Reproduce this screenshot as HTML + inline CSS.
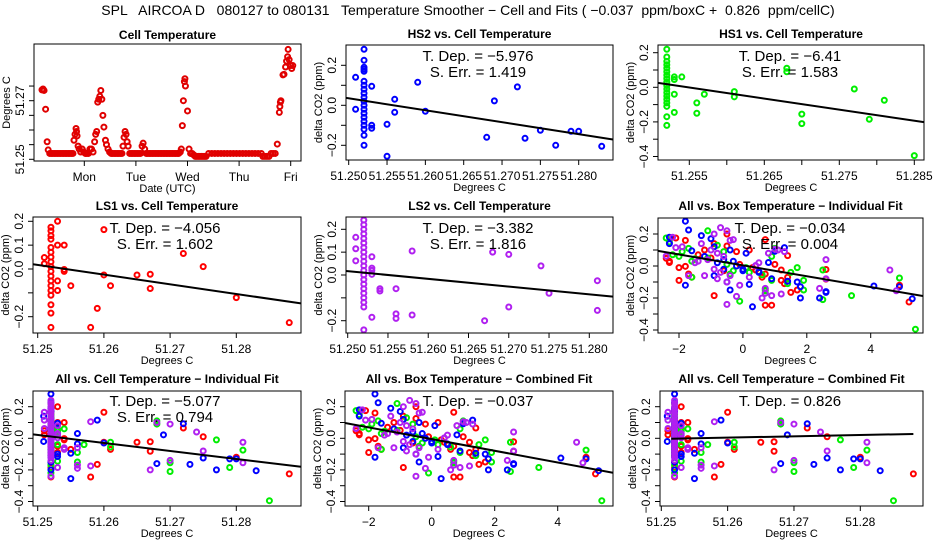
<!DOCTYPE html>
<html><head><meta charset="utf-8"><title>Temperature Smoother</title>
<style>
html,body{margin:0;padding:0;background:#fff;}
svg{display:block;font-family:"Liberation Sans",Arial,sans-serif;}
</style></head>
<body>
<svg id="chart" width="936" height="540" viewBox="0 0 936 540" xmlns="http://www.w3.org/2000/svg">
<rect x="0" y="0" width="936" height="540" fill="#fff"/>
<text x="468" y="15" text-anchor="middle" font-size="14" xml:space="preserve">SPL   AIRCOA D   080127 to 080131   Temperature Smoother − Cell and Fits ( −0.037  ppm/boxC +  0.826  ppm/cellC)</text>
</svg>
<script>
// ---- Panel 1 time series data (day index: Mon=1) ----
const tsTimes = [0.18,0.20,0.22,0.25,0.28,0.30,0.33,
0.36,0.39,0.42,0.45,0.48,0.51,0.54,0.57,0.60,0.63,0.66,0.69,0.72,0.75,0.78,
0.80,0.82,0.84,0.85,0.86,0.88,0.90,0.93,0.96,0.99,1.02,1.05,1.08,1.11,1.14,1.17,
1.20,1.22,1.24,1.26,1.28,1.30,1.32,1.34,1.36,1.38,1.41,1.43,1.46,1.49,1.52,
1.55,1.58,1.61,1.64,1.67,1.70,1.73,
1.75,1.77,1.79,1.81,1.83,1.85,
1.88,1.91,1.94,1.97,2.00,2.03,2.06,2.09,
2.12,2.14,2.17,
2.20,2.23,2.26,2.29,2.32,2.35,2.38,2.41,2.44,2.47,2.50,2.53,2.56,2.59,2.62,2.65,2.68,2.71,2.74,2.77,2.80,2.83,
2.86,2.88,2.90,2.92,2.94,2.95,2.96,3.00,3.03,3.06,3.09,3.12,
3.15,3.18,3.21,3.24,3.27,3.30,3.33,3.36,
3.41,3.47,3.53,3.59,3.65,3.71,3.77,3.83,3.89,3.95,4.01,4.07,4.13,4.19,4.25,4.31,4.37,4.43,
4.46,4.50,4.54,4.58,4.62,4.66,4.70,
4.74,4.78,4.79,4.80,4.81,4.85,4.87,4.90,4.92,4.94,4.95,4.97,5.00,5.02,5.04];
const tsTemps = [51.2737,51.274,51.2735,51.2671,51.256,51.2532,51.252,
51.252,51.252,51.252,51.252,51.252,51.252,51.252,51.252,51.252,51.252,51.252,51.252,51.252,51.252,51.252,
51.2565,51.2585,51.2605,51.2595,51.258,51.2545,51.2535,51.2525,51.2535,51.2525,51.252,51.252,51.252,51.2535,51.2535,51.2525,
51.256,51.2585,51.2595,51.2695,51.2705,51.2715,51.2735,51.2705,51.265,51.261,51.2565,51.255,51.2535,51.2525,51.252,
51.252,51.252,51.252,51.252,51.252,51.252,51.252,
51.2545,51.2575,51.2595,51.2585,51.256,51.2545,
51.252,51.252,51.252,51.252,51.252,51.252,51.252,51.252,
51.2545,51.2555,51.2535,
51.252,51.252,51.252,51.252,51.252,51.252,51.252,51.252,51.252,51.252,51.252,51.252,51.252,51.252,51.252,51.252,51.252,51.252,51.252,51.252,51.252,51.252,
51.2525,51.2535,51.2615,51.27,51.2765,51.2775,51.275,51.2665,51.2535,51.252,51.252,51.2515,
51.251,51.251,51.251,51.251,51.251,51.251,51.251,51.251,
51.252,51.252,51.252,51.252,51.252,51.252,51.252,51.252,51.252,51.252,51.252,51.252,51.252,51.252,51.252,51.252,51.252,51.252,
51.251,51.251,51.251,51.251,51.252,51.252,51.252,
51.2552,51.266,51.268,51.2695,51.27,51.2788,51.279,51.2815,51.2835,51.285,51.2875,51.284,51.282,51.281,51.282];
const dayLabels = ["Mon","Tue","Wed","Thu","Fri"];
const dayTicks = [1,2,3,4,5];

// ---- HS2 (blue) ----
const hs2Cell = [51.2509,51.2509,
51.252,51.252,51.252,51.252,51.252,51.252,51.252,51.252,51.252,51.252,51.252,51.252,51.252,51.252,51.252,51.252,51.252,51.252,51.252,51.252,
51.253,51.253,51.253,51.255,51.255,51.256,51.256,51.259,51.260,51.268,51.269,51.272,51.273,51.275,51.277,51.279,51.280,51.283];
const hs2Delta = [0.14,-0.02,
0.28,0.225,0.19,0.18,0.17,0.12,0.1,0.08,0.06,0.04,0.02,0,-0.02,-0.04,-0.06,-0.08,-0.1,-0.12,-0.15,-0.2,
0.095,-0.1,-0.115,-0.095,-0.255,0.03,-0.035,0.115,-0.03,-0.16,0.022,0.092,-0.165,-0.125,-0.2,-0.13,-0.13,-0.205];
const hs2Box = [-2.3,-0.6,
-1.8,-1.7,-1.3,-2.3,-1.0,-0.9,-0.4,0.1,-1.2,-0.6,-0.8,-0.2,0.0,0.5,-0.9,0.9,-0.5,-1.8,-0.4,1.8,
-1.6,1.7,0.2,1.4,0.3,-0.3,0.5,1.3,0.0,2.6,0.8,1.0,2.6,4.1,2.4,4.9,1.8,5.3];

// ---- HS1 (green) ----
const hs1Cell = [51.252,51.252,51.252,51.252,51.252,51.252,51.252,51.252,51.252,51.252,51.252,51.252,51.252,51.252,51.252,51.252,51.252,51.252,
51.253,51.253,51.253,51.253,51.254,51.256,51.256,51.257,51.261,51.261,51.268,51.268,51.270,51.270,51.277,51.279,51.281,51.285];
const hs1Delta = [0.22,0.175,0.15,0.13,0.11,0.09,0.07,0.05,0.03,0.01,-0.01,-0.03,-0.05,-0.07,-0.09,-0.11,-0.17,-0.22,
0.06,0.045,-0.04,-0.145,0.06,-0.09,-0.15,-0.04,-0.025,-0.055,0.11,0.09,-0.155,-0.21,-0.01,-0.185,-0.075,-0.395];
const hs1Box = [-1.1,-2.4,-2.3,-0.8,-1.7,-0.6,-2.2,-1.1,-1.6,-0.5,0.1,-0.3,-0.4,-1.6,0.9,1.4,0.7,-0.1,
-2.0,-1.5,1.5,0.7,0.9,1.9,1.9,0.2,2.5,0.6,1.0,-1.9,0.7,2.5,1.7,3.4,4.9,5.4];

// ---- LS1 (red) ----
const ls1Cell = [51.251,51.251,
51.252,51.252,51.252,51.252,51.252,51.252,51.252,51.252,51.252,51.252,51.252,51.252,51.252,51.252,51.252,51.252,51.252,51.252,
51.253,51.253,51.253,51.253,51.254,51.254,51.254,51.255,51.258,51.259,51.260,51.260,51.261,51.265,51.267,51.267,51.272,51.275,51.280,51.288];
const ls1Delta = [0.048,0.022,
0.175,0.16,0.14,0.125,0.09,0.07,0.05,0.03,0.01,-0.01,-0.03,-0.05,-0.07,-0.09,-0.11,-0.15,-0.185,-0.245,
0.2,0.1,-0.05,-0.09,0.1,-0.002,-0.01,-0.07,-0.245,-0.165,0.165,-0.025,-0.07,-0.025,-0.022,-0.082,0.065,0.01,-0.12,-0.225];
const ls1Box = [-2.4,-2.3,
-2.1,-1.8,-0.9,-0.5,-0.2,-1.4,-1.0,-2.3,-0.1,0.3,-0.6,-1.7,0.6,-2.0,1.3,1.7,-0.9,0.7,
-0.5,0.2,0.7,1.2,-1.2,-1.8,-2.0,-1.6,0.9,1.5,0.7,0.4,1.4,1.2,2.6,2.6,1.4,1.0,4.9,5.2];

// ---- LS2 (purple) ----
const ls2Cell = [51.251,51.251,51.251,
51.252,51.252,51.252,51.252,51.252,51.252,51.252,51.252,51.252,51.252,51.252,51.252,51.252,51.252,51.252,51.252,51.252,51.252,51.252,51.252,51.252,
51.253,51.253,51.253,51.253,51.253,51.254,51.254,51.256,51.256,51.256,51.258,51.258,51.267,51.268,51.270,51.270,51.274,51.275,51.281,51.281];
const ls2Delta = [0.165,0.115,0.062,
0.24,0.22,0.2,0.18,0.16,0.14,0.12,0.1,0.08,0.06,0.04,0.02,0,-0.02,-0.04,-0.06,-0.08,-0.1,-0.12,-0.14,-0.24,
0.08,0.03,0.02,0.003,-0.185,-0.06,-0.07,-0.06,-0.17,-0.19,0.105,-0.175,-0.2,0.1,0.09,-0.14,0.04,-0.08,-0.025,-0.155];
const ls2Box = [-0.3,-2.1,-2.4,
-0.7,-0.5,-0.9,-2.2,-0.4,-1.3,-1.9,-1.0,-0.8,-0.6,-1.1,-1.5,0.4,-0.9,-0.7,-1.2,-0.8,-0.5,-0.1,0.7,-0.5,
0.8,-1.4,0.5,0.4,0.9,-0.4,0.2,-1.7,0.7,-0.2,1.0,1.2,0.6,1.1,1.3,2.4,2.6,2.6,4.6,4.8];

// ---- fit results ----
const fitSlopes = [-5.976,-6.41,-4.056,-3.382,-0.034,-5.077,-0.037,0.826];
const fitIntercepts = [0.035,0.031,0.017,0.017,0.004,0.0215,-0.005,-0.004];
const depLabels = ["−5.976","−6.41","−4.056","−3.382","−0.034","−5.077","−0.037","0.826"];
const errLabels = ["1.419","1.583","1.602","1.816","0.004","0.794","",""];

const NS = "http://www.w3.org/2000/svg";
const svg = document.getElementById("chart");
function mk(tag, attrs, parent){
  const e = document.createElementNS(NS, tag);
  for (const k in attrs) e.setAttribute(k, attrs[k]);
  (parent||svg).appendChild(e);
  return e;
}
function lin(v0,p0,v1,p1){ const s=(p1-p0)/(v1-v0); const f=v=>p0+(v-v0)*s; f.inv=p=>v0+(p-p0)/s; return f; }

const COL = {red:"#ff0000", green:"#00ee00", blue:"#0000ff", purple:"#b020f0"};

function panel(cfg){
  const g = mk("g", {});
  
  
  const [L,T,R,B] = cfg.box;
  const sx = lin(...cfg.xc), sy = lin(...cfg.yc);
  const t = mk("text",{x:(L+R)/2, y:cfg.titleY, "text-anchor":"middle","font-size":"12","font-weight":"bold"}, g);
  t.textContent = cfg.title;
  
  
  const cid = cfg.name+"-clip";
  const cp = mk("clipPath",{id:cid}, g);
  mk("rect",{x:L,y:T,width:R-L,height:B-T}, cp);
  const plot = mk("g",{"clip-path":"url(#"+cid+")"}, g);
  
  
  const xa = mk("g",{}, g);
  
  
  cfg.xt.forEach((v,i)=>{
    const px = sx(v);
    mk("line",{x1:px,x2:px,y1:B,y2:B+5,stroke:"#000","stroke-width":1}, xa);
    const lab = cfg.xl[i];
    if (lab){
      const tx = mk("text",{x:px,y:B+20,"text-anchor":"middle","font-size":"12"}, xa);
      tx.textContent = lab;
      
      
    }
  });
  const xl = mk("text",{x:(L+R)/2,y:B+31,"text-anchor":"middle","font-size":"11"}, g);
  xl.textContent = cfg.xlabel;
  
  
  const ya = mk("g",{}, g);
  
  
  cfg.yt.forEach((v,i)=>{
    const py = sy(v);
    mk("line",{x1:L-5,x2:L,y1:py,y2:py,stroke:"#000","stroke-width":1}, ya);
    const lab = cfg.yl[i];
    if (lab){
      const tx = mk("text",{x:0,y:0,"text-anchor":"middle","font-size":"12",transform:"translate("+(L-10)+","+py+") rotate(-90)"}, ya);
      tx.textContent = lab;
      
      
    }
  });
  const yl = mk("text",{x:0,y:0,"text-anchor":"middle","font-size":"11",transform:"translate("+(L-24)+","+((T+B)/2)+") rotate(-90)"}, g);
  yl.textContent = cfg.ylabel;
  
  
  if (cfg.fit !== undefined){
    const k = cfg.fit;
    const a1 = mk("text",{x:cfg.txtX,y:cfg.txtY,"text-anchor":"middle","font-size":"15"}, g);
    a1.textContent = "T. Dep. =  " + depLabels[k];
    
    
    if (errLabels[k]){
      const a2 = mk("text",{x:cfg.txtX,y:cfg.txtY+16,"text-anchor":"middle","font-size":"15"}, g);
      a2.textContent = "S. Err. =  " + errLabels[k];
      
      
    }
  }
  cfg.series.forEach(s=>{
    s.x.forEach((xv,i)=>{
      const c = mk("circle",{cx:sx(xv),cy:sy(s.y[i]),r:2.5,fill:"none",stroke:s.color,"stroke-width":2}, plot);
      
      
    });
  });
  if (cfg.fit !== undefined){
    const k = cfg.fit;
    const xa0 = cfg.lineX ? cfg.lineX[0] : sx.inv(L), xa1 = cfg.lineX ? cfg.lineX[1] : sx.inv(R);
    const f = v => fitIntercepts[k] + fitSlopes[k]*(v - cfg.x0);
    const ln = mk("line",{x1:sx(xa0),y1:sy(f(xa0)),x2:sx(xa1),y2:sy(f(xa1)),stroke:"#000","stroke-width":2}, plot);
    
    
  }
  const bx = mk("rect",{x:L,y:T,width:R-L,height:B-T,fill:"none",stroke:"#000","stroke-width":1}, g);
  
  
}

const cellTicks5 = [51.250,51.255,51.260,51.265,51.270,51.275,51.280];
const cellLabs5 = ["51.250","51.255","51.260","51.265","51.270","51.275","51.280"];
const cellTicks10 = [51.25,51.26,51.27,51.28];
const cellLabs10 = ["51.25","51.26","51.27","51.28"];
const yT4 = [-0.4,-0.3,-0.2,-0.1,0,0.1,0.2];
const yL4 = ["−0.4","","−0.2","","0.0","","0.2"];
const allCell = [
 {x:ls1Cell,y:ls1Delta,color:COL.red,label:"ls1"},
 {x:hs1Cell,y:hs1Delta,color:COL.green,label:"hs1"},
 {x:hs2Cell,y:hs2Delta,color:COL.blue,label:"hs2"},
 {x:ls2Cell,y:ls2Delta,color:COL.purple,label:"ls2"}];
const allBox = [
 {x:ls1Box,y:ls1Delta,color:COL.red,label:"ls1"},
 {x:hs1Box,y:hs1Delta,color:COL.green,label:"hs1"},
 {x:hs2Box,y:hs2Delta,color:COL.blue,label:"hs2"},
 {x:ls2Box,y:ls2Delta,color:COL.purple,label:"ls2"}];

panel({name:"cell-temperature-panel",title:"Cell Temperature",titleY:39,box:[34,44,301,161],
  xc:[1,84.3,5,290.7], yc:[51.25,159.3,51.27,100.7],
  xt:dayTicks, xl:dayLabels, xlabel:"Date (UTC)",
  yt:[51.25,51.255,51.26,51.265,51.27,51.275], yl:["51.25","","","","51.27",""], ylabel:"Degrees C",
  series:[{x:tsTimes,y:tsTemps,color:"#e00000",label:"cell-temp"}]});

panel({name:"hs2-panel",title:"HS2 vs. Cell Temperature",titleY:38,box:[346,45,613,160],
  xc:[51.25,348.7,51.28,578.7], yc:[0,105.3,0.2,65.3],
  xt:cellTicks5, xl:cellLabs5, xlabel:"Degrees C",
  yt:[-0.2,-0.1,0,0.1,0.2], yl:["−0.2","","0.0","","0.2"], ylabel:"delta CO2 (ppm)",
  fit:0, x0:51.25, txtX:478, txtY:61,
  series:[{x:hs2Cell,y:hs2Delta,color:COL.blue,label:"hs2"}]});

panel({name:"hs1-panel",title:"HS1 vs. Cell Temperature",titleY:38,box:[658,45,924,160],
  xc:[51.255,689.3,51.285,914.3], yc:[0,87.3,0.2,52.7],
  xt:[51.255,51.26,51.265,51.27,51.275,51.28,51.285], xl:["51.255","","51.265","","51.275","","51.285"], xlabel:"Degrees C",
  yt:yT4, yl:yL4, ylabel:"delta CO2 (ppm)",
  fit:1, x0:51.25, txtX:790, txtY:61,
  series:[{x:hs1Cell,y:hs1Delta,color:COL.green,label:"hs1"}]});

panel({name:"ls1-panel",title:"LS1 vs. Cell Temperature",titleY:210,box:[33,217,301,333],
  xc:[51.25,37.7,51.28,236.3], yc:[0,269,0.2,221.3],
  xt:cellTicks10, xl:cellLabs10, xlabel:"Degrees C",
  yt:[-0.2,-0.1,0,0.1,0.2], yl:["−0.2","","0.0","0.1","0.2"], ylabel:"delta CO2 (ppm)",
  fit:2, x0:51.25, txtX:165, txtY:233,
  series:[{x:ls1Cell,y:ls1Delta,color:COL.red,label:"ls1"}]});

panel({name:"ls2-panel",title:"LS2 vs. Cell Temperature",titleY:210,box:[346,217,613,333],
  xc:[51.25,347.7,51.28,589.3], yc:[0,275,0.2,229.3],
  xt:cellTicks5, xl:cellLabs5, xlabel:"Degrees C",
  yt:[-0.2,-0.1,0,0.1,0.2], yl:["−0.2","","0.0","0.1","0.2"], ylabel:"delta CO2 (ppm)",
  fit:3, x0:51.25, txtX:478, txtY:233,
  series:[{x:ls2Cell,y:ls2Delta,color:COL.purple,label:"ls2"}]});

panel({name:"all-box-individual-panel",title:"All vs. Box Temperature − Individual Fit",titleY:210,box:[658,218,923,333],
  xc:[-2,679,4,870.7], yc:[0,266,0.2,234],
  xt:[-2,0,2,4], xl:["−2","0","2","4"], xlabel:"Degrees C",
  yt:yT4, yl:yL4, ylabel:"delta CO2 (ppm)",
  fit:4, x0:0, txtX:790, txtY:233,
  series:allBox});

panel({name:"all-cell-individual-panel",title:"All vs. Cell Temperature − Individual Fit",titleY:383,box:[33,391,301,506],
  xc:[51.25,37.7,51.28,236.3], yc:[0,438.3,0.2,406.7],
  xt:cellTicks10, xl:cellLabs10, xlabel:"Degrees C",
  yt:yT4, yl:yL4, ylabel:"delta CO2 (ppm)",
  fit:5, x0:51.25, txtX:165, txtY:406,
  series:allCell});

panel({name:"all-box-combined-panel",title:"All vs. Box Temperature − Combined Fit",titleY:383,box:[345,391,613,506],
  xc:[-2,368.7,4,557.7], yc:[0,438.3,0.2,406.7],
  xt:[-2,0,2,4], xl:["−2","0","2","4"], xlabel:"Degrees C",
  yt:yT4, yl:yL4, ylabel:"delta CO2 (ppm)",
  fit:6, x0:0, txtX:478, txtY:406,
  series:allBox});

panel({name:"all-cell-combined-panel",title:"All vs. Cell Temperature − Combined Fit",titleY:383,box:[660,391,923,506],
  xc:[51.25,661.3,51.28,860.3], yc:[0,438.3,0.2,406.7],
  xt:cellTicks10, xl:cellLabs10, xlabel:"Degrees C",
  yt:yT4, yl:yL4, ylabel:"delta CO2 (ppm)",
  fit:7, x0:51.25, txtX:790, txtY:406, lineX:[51.2515,51.288],
  series:allCell});
</script>
</body></html>
